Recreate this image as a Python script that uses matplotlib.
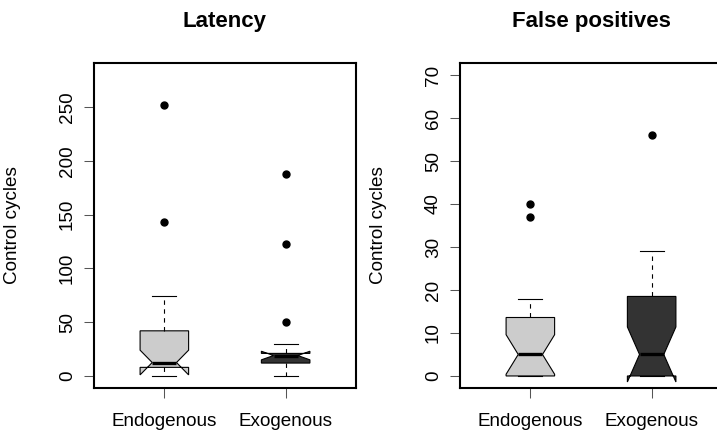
import matplotlib
matplotlib.use("Agg")
import matplotlib.pyplot as plt

plt.rcParams['font.family'] = ['Liberation Sans', 'DejaVu Sans']

groups = ['Endogenous', 'Exogenous']
box_colors = ['#cccccc', '#333333']

# Latency (control cycles)
lat_whislo = [0, 0]
lat_q1 = [8, 12]
lat_med = [12.5, 19]
lat_q3 = [42, 21]
lat_whishi = [74, 29.5]
lat_cilo = [1, 15]
lat_cihi = [24, 23]
lat_out = [[143, 252], [50, 123, 188]]

# False positives (control cycles)
fp_whislo = [0, 0]
fp_q1 = [0, 0]
fp_med = [5, 5]
fp_q3 = [13.6, 18.5]
fp_whishi = [18, 29]
fp_cilo = [0.4, -1.4]
fp_cihi = [9.6, 11.4]
fp_out = [[37, 40], [56]]


def make_stats(wlo, q1, med, q3, whi, clo, chi, out):
    stats = []
    for i in range(len(groups)):
        stats.append(dict(whislo=wlo[i], q1=q1[i], med=med[i], q3=q3[i], whishi=whi[i],
                          cilo=clo[i], cihi=chi[i], fliers=out[i], label=groups[i]))
    return stats


def draw(ax, stats, title, ylim, yticks):
    bp = ax.bxp(stats, positions=[1, 2], widths=0.4, shownotches=True, patch_artist=True,
                boxprops=dict(edgecolor='black', linewidth=0.8),
                whiskerprops=dict(color='black', linewidth=0.8, linestyle=(0, (4, 4))),
                capprops=dict(color='black', linewidth=0.8),
                medianprops=dict(color='black', linewidth=2.4, solid_capstyle='butt'),
                flierprops=dict(marker='o', markerfacecolor='black', markeredgecolor='black',
                                markersize=5, linestyle='none'))
    for patch, c in zip(bp['boxes'], box_colors):
        patch.set_facecolor(c)
    ax.set_xlim(0.42, 2.58)
    ax.set_ylim(*ylim)
    ax.set_yticks(yticks)
    ax.set_xticks([1, 2])
    ax.set_xticklabels(groups)
    ax.set_title(title, fontsize=16, fontweight='bold', pad=26)
    ax.set_ylabel('Control cycles', fontsize=13.6)
    ax.yaxis.set_label_coords(-0.279, 0.5)
    ax.tick_params(axis='both', labelsize=13.6, length=7, width=0.75, color='#555555')
    ax.tick_params(axis='x', pad=11)
    ax.tick_params(axis='y', pad=6)
    for lab in ax.get_yticklabels():
        lab.set_rotation(90)
        lab.set_va('center')
    for sp in ax.spines.values():
        sp.set_linewidth(1.5)


fig = plt.figure(figsize=(7.17, 4.36), dpi=100)
W, H = 717.0, 436.0
ax1 = fig.add_axes([94 / W, (H - 388) / H, 262 / W, 325 / H])
ax2 = fig.add_axes([460 / W, (H - 388) / H, 262 / W, 325 / H])

draw(ax1, make_stats(lat_whislo, lat_q1, lat_med, lat_q3, lat_whishi, lat_cilo, lat_cihi, lat_out),
     'Latency', (-11.2, 291.2), [0, 50, 100, 150, 200, 250])
draw(ax2, make_stats(fp_whislo, fp_q1, fp_med, fp_q3, fp_whishi, fp_cilo, fp_cihi, fp_out),
     'False positives', (-2.8, 72.8), [0, 10, 20, 30, 40, 50, 60, 70])

fig.savefig('out.png', dpi=100)
